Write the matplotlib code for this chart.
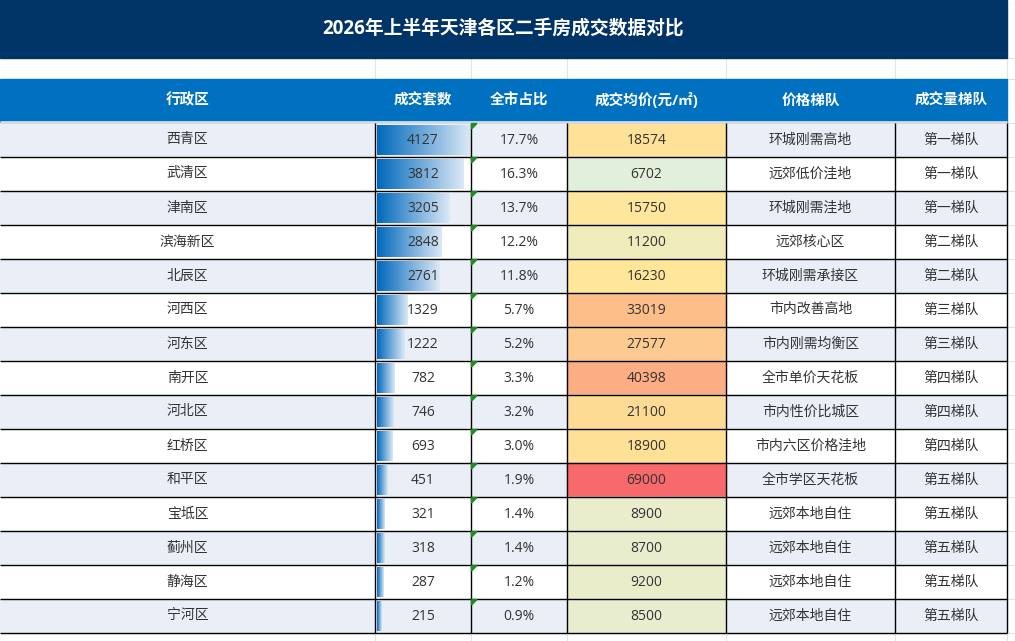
import matplotlib
matplotlib.use("Agg")
import matplotlib.pyplot as plt
import numpy as np
from matplotlib.colors import LinearSegmentedColormap, TwoSlopeNorm
from matplotlib.patches import Rectangle, Polygon

plt.rcParams["font.family"] = ["Open Sans", "Noto Sans CJK SC", "DejaVu Sans"]

title = "2026年上半年天津各区二手房成交数据对比"
headers = ["行政区", "成交套数", "全市占比", "成交均价(元/㎡)", "价格梯队", "成交量梯队"]
districts = ["西青区", "武清区", "津南区", "滨海新区", "北辰区", "河西区", "河东区", "南开区",
             "河北区", "红桥区", "和平区", "宝坻区", "蓟州区", "静海区", "宁河区"]
deals = [4127, 3812, 3205, 2848, 2761, 1329, 1222, 782, 746, 693, 451, 321, 318, 287, 215]
shares = [17.7, 16.3, 13.7, 12.2, 11.8, 5.7, 5.2, 3.3, 3.2, 3.0, 1.9, 1.4, 1.4, 1.2, 0.9]
prices = [18574, 6702, 15750, 11200, 16230, 33019, 27577, 40398, 21100, 18900, 69000,
          8900, 8700, 9200, 8500]
price_tiers = ["环城刚需高地", "远郊低价洼地", "环城刚需洼地", "远郊核心区", "环城刚需承接区",
               "市内改善高地", "市内刚需均衡区", "全市单价天花板", "市内性价比城区", "市内六区价格洼地",
               "全市学区天花板", "远郊本地自住", "远郊本地自住", "远郊本地自住", "远郊本地自住"]
volume_tiers = ["第一梯队", "第一梯队", "第一梯队", "第二梯队", "第二梯队", "第三梯队", "第三梯队",
                "第四梯队", "第四梯队", "第四梯队", "第五梯队", "第五梯队", "第五梯队", "第五梯队",
                "第五梯队"]

# layout in pixels
W, H = 1015, 641
col_edges = [0, 375, 471, 567, 726, 895, 1007]
title_bottom = 58
head_top, head_bottom = 79, 122
row_top0, row_h = 123, 34
text_color = "#333333"
grid_color = "#E1E4E8"

fig = plt.figure(figsize=(W / 100, H / 100), dpi=100)
ax = fig.add_axes([0, 0, 1, 1])
ax.set_xlim(0, W)
ax.set_ylim(H, 0)
ax.axis("off")

# faint sheet gridlines outside the table
for x in col_edges[1:]:
    ax.vlines(x, title_bottom, head_top, color=grid_color, lw=0.8, zorder=1)
    ax.vlines(x, row_top0 + row_h * len(districts), H, color=grid_color, lw=0.8, zorder=1)
for i in range(len(districts) + 2):
    y = row_top0 + i * row_h
    ax.hlines(y, col_edges[-1], W, color=grid_color, lw=0.8, zorder=1)
ax.hlines([title_bottom, head_top], col_edges[-1], W, color=grid_color, lw=0.8, zorder=1)

# title bar
ax.add_patch(Rectangle((0, 0), col_edges[-1], title_bottom, color="#003366", zorder=2))
ax.text(col_edges[-1] / 2, title_bottom / 2, title, color="white", fontsize=13.5,
        fontweight="bold", ha="center", va="center", zorder=3)

# header row
ax.add_patch(Rectangle((0, head_top), col_edges[-1], head_bottom - head_top,
                       color="#0070C0", zorder=2))
ax.hlines(head_bottom, 0, col_edges[-1], color="#D5DAE1", lw=2, zorder=3)
for j, h in enumerate(headers):
    cx = (col_edges[j] + col_edges[j + 1]) / 2
    ax.text(cx, (head_top + head_bottom) / 2, h, color="white", fontsize=10.5,
            fontweight="bold", ha="center", va="center", zorder=3)

# colour scale for price column
price_cmap = LinearSegmentedColormap.from_list("price", ["#E2EFDA", "#FFE699", "#F8696B"])
price_norm = TwoSlopeNorm(vmin=min(prices), vcenter=float(np.median(prices)), vmax=max(prices))
bar_cmap = LinearSegmentedColormap.from_list("bar", ["#0068BC", "#DCE9F6"])
gradient = np.linspace(0, 1, 256).reshape(1, -1)
bar_full = col_edges[2] - col_edges[1] - 2
max_deal = max(deals)

for i, name in enumerate(districts):
    y0 = row_top0 + i * row_h
    cy = y0 + row_h / 2
    bg = "#EAEFF7" if i % 2 == 0 else "white"
    ax.add_patch(Rectangle((0, y0), col_edges[-1], row_h, color=bg, zorder=2))
    ax.add_patch(Rectangle((col_edges[3], y0), col_edges[4] - col_edges[3], row_h,
                           color=price_cmap(price_norm(prices[i])), zorder=2))

    # data bar
    x0 = col_edges[1] + 2
    x1 = x0 + bar_full * deals[i] / max_deal
    ax.imshow(gradient, cmap=bar_cmap, aspect="auto", extent=[x0, x1, y0 + row_h - 2, y0 + 2],
              zorder=3, interpolation="bilinear")

    cells = [name, str(deals[i]), f"{shares[i]:.1f}%", str(prices[i]),
             price_tiers[i], volume_tiers[i]]
    for j, t in enumerate(cells):
        cx = (col_edges[j] + col_edges[j + 1]) / 2
        ax.text(cx, cy, t, color=text_color, fontsize=10, ha="center", va="center", zorder=5)

    # green "number stored as text" marker
    ax.add_patch(Polygon([(col_edges[2] + 0.5, y0 + 0.5), (col_edges[2] + 6, y0 + 0.5),
                          (col_edges[2] + 0.5, y0 + 6)], color="#1E8B24", zorder=6))

# table borders
n = len(districts)
for i in range(1, n + 1):
    ax.hlines(row_top0 + i * row_h, 0, col_edges[-1], color="black", lw=1, zorder=4)
for x in col_edges[1:]:
    ax.vlines(x, row_top0, row_top0 + n * row_h, color="black", lw=1, zorder=4)

ax.set_xlim(0, W)
ax.set_ylim(H, 0)
fig.savefig("out.png", dpi=100)
